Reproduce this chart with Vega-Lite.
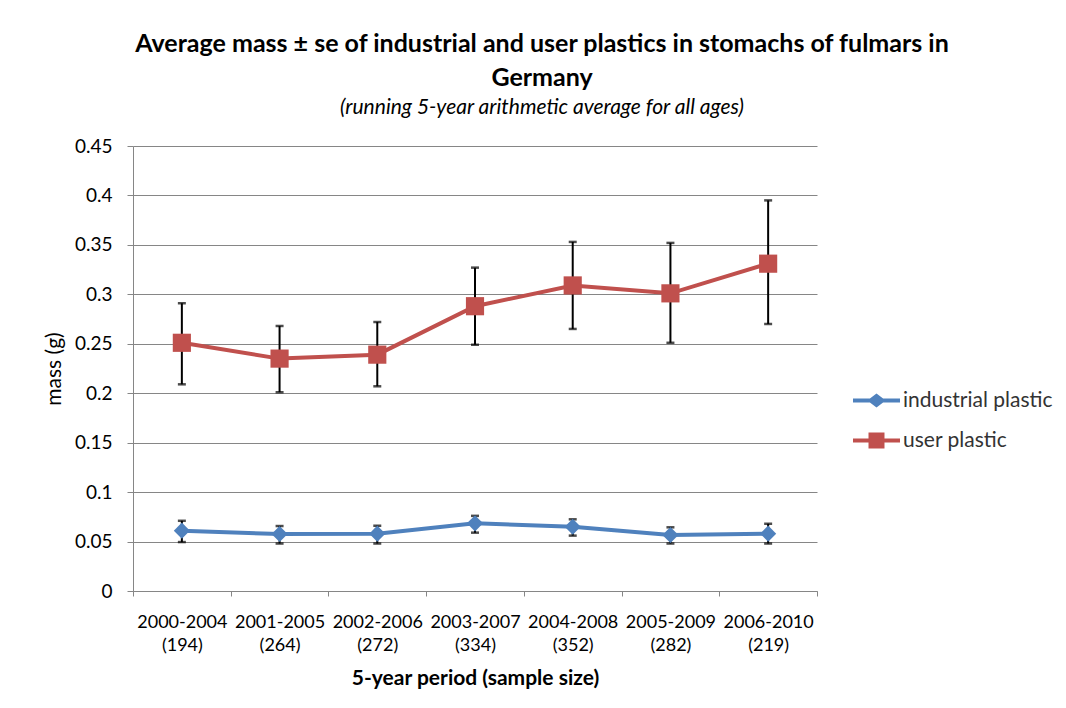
{
  "$schema": "https://vega.github.io/schema/vega-lite/v6.json",
  "width": 684,
  "height": 445,
  "autosize": {"type": "none"},
  "padding": {"left": 133, "top": 146, "right": 249, "bottom": 117},
  "background": "white",
  "title": {
    "text": ["Average mass ± se of industrial and user plastics in stomachs of fulmars in", "Germany"],
    "subtitle": "(running  5-year arithmetic average for all ages)",
    "anchor": "middle",
    "dx": 67,
    "font": "Lato",
    "fontSize": 25,
    "fontWeight": "bold",
    "color": "#000000",
    "lineHeight": 34,
    "subtitleFont": "Lato",
    "subtitleFontSize": 21,
    "subtitleFontStyle": "italic",
    "subtitleFontWeight": "normal",
    "subtitleColor": "#000000",
    "subtitlePadding": 6,
    "offset": 19
  },
  "data": {
    "values": [
      {"period": "2000-2004 (194)", "series": "industrial plastic", "mass": 0.061, "lo": 0.0495, "hi": 0.071},
      {"period": "2001-2005 (264)", "series": "industrial plastic", "mass": 0.0576, "lo": 0.048, "hi": 0.0657},
      {"period": "2002-2006 (272)", "series": "industrial plastic", "mass": 0.058, "lo": 0.048, "hi": 0.066},
      {"period": "2003-2007 (334)", "series": "industrial plastic", "mass": 0.0684, "lo": 0.059, "hi": 0.076},
      {"period": "2004-2008 (352)", "series": "industrial plastic", "mass": 0.065, "lo": 0.056, "hi": 0.0725},
      {"period": "2005-2009 (282)", "series": "industrial plastic", "mass": 0.0566, "lo": 0.048, "hi": 0.0644},
      {"period": "2006-2010 (219)", "series": "industrial plastic", "mass": 0.058, "lo": 0.048, "hi": 0.068},
      {"period": "2000-2004 (194)", "series": "user plastic", "mass": 0.251, "lo": 0.209, "hi": 0.291},
      {"period": "2001-2005 (264)", "series": "user plastic", "mass": 0.235, "lo": 0.201, "hi": 0.268},
      {"period": "2002-2006 (272)", "series": "user plastic", "mass": 0.239, "lo": 0.207, "hi": 0.272},
      {"period": "2003-2007 (334)", "series": "user plastic", "mass": 0.288, "lo": 0.249, "hi": 0.327},
      {"period": "2004-2008 (352)", "series": "user plastic", "mass": 0.309, "lo": 0.265, "hi": 0.353},
      {"period": "2005-2009 (282)", "series": "user plastic", "mass": 0.301, "lo": 0.251, "hi": 0.352},
      {"period": "2006-2010 (219)", "series": "user plastic", "mass": 0.331, "lo": 0.27, "hi": 0.395}
    ]
  },
  "encoding": {
    "x": {
      "field": "period",
      "type": "nominal",
      "sort": null,
      "scale": {"paddingInner": 0, "paddingOuter": 0},
      "axis": {
        "title": "5-year period (sample size)",
        "labelAngle": 0,
        "labelExpr": "[slice(datum.label, 0, 9), slice(datum.label, 10)]",
        "labelFont": "Lato",
        "labelFontSize": 18,
        "labelColor": "#000000",
        "labelLineHeight": 23,
        "labelPadding": 17,
        "tickBand": "extent",
        "tickSize": 5,
        "tickColor": "#868686",
        "domainColor": "#868686",
        "titleFont": "Lato",
        "titleFontSize": 21,
        "titleFontWeight": "bold",
        "titleColor": "#000000",
        "titlePadding": 13,
        "grid": false
      }
    },
    "y": {
      "field": "mass",
      "type": "quantitative",
      "scale": {"domain": [0, 0.45], "nice": false},
      "axis": {
        "title": "mass (g)",
        "values": [0, 0.05, 0.1, 0.15, 0.2, 0.25, 0.3, 0.35, 0.4, 0.45],
        "format": "~g",
        "labelFont": "Lato",
        "labelFontSize": 19,
        "labelColor": "#000000",
        "labelPadding": 15,
        "tickSize": 6,
        "tickColor": "#868686",
        "domainColor": "#868686",
        "gridColor": "#868686",
        "gridWidth": 1,
        "titleFont": "Lato",
        "titleFontSize": 21,
        "titleFontWeight": "normal",
        "titleColor": "#000000",
        "titlePadding": 10
      }
    }
  },
  "layer": [
    {
      "mark": {"type": "rule", "color": "#000000", "strokeWidth": 2},
      "encoding": {"y": {"field": "lo", "type": "quantitative"}, "y2": {"field": "hi"}}
    },
    {
      "mark": {"type": "tick", "color": "#000000", "thickness": 2.5, "size": 8, "orient": "horizontal"},
      "encoding": {"y": {"field": "lo", "type": "quantitative"}}
    },
    {
      "mark": {"type": "tick", "color": "#000000", "thickness": 2.5, "size": 8, "orient": "horizontal"},
      "encoding": {"y": {"field": "hi", "type": "quantitative"}}
    },
    {
      "mark": {"type": "line", "strokeWidth": 4},
      "encoding": {
        "color": {
          "field": "series",
          "type": "nominal",
          "scale": {"domain": ["industrial plastic", "user plastic"], "range": ["#4F81BD", "#C0504D"]},
          "legend": {
            "orient": "none",
            "legendX": 720,
            "legendY": 231,
            "title": null,
            "labelFont": "Lato",
            "labelFontSize": 21,
            "labelColor": "#333333",
            "labelOffset": 3,
            "rowPadding": 6,
            "symbolSize": 2209,
            "symbolStrokeWidth": 0,
            "symbolType": "M-1,-0.085H-0.28L0,-0.3L0.28,-0.085H1V0.085H0.28L0,0.3L-0.28,0.085H-1Z",
            "encode": {
              "symbols": {
                "update": {
                  "shape": {"signal": "datum.value === 'user plastic' ? 'M-1,-0.085H-0.34V-0.34H0.34V-0.085H1V0.085H0.34V0.34H-0.34V0.085H-1Z' : 'M-1,-0.085H-0.28L0,-0.3L0.28,-0.085H1V0.085H0.28L0,0.3L-0.28,0.085H-1Z'"},
                  "fill": {"signal": "datum.value === 'user plastic' ? '#C0504D' : '#4F81BD'"},
                  "strokeWidth": {"value": 0}
                }
              }
            }
          }
        }
      }
    },
    {
      "transform": [{"filter": "datum.series === 'industrial plastic'"}],
      "mark": {"type": "point", "filled": true, "opacity": 1, "shape": "diamond", "size": 260},
      "encoding": {"color": {"field": "series", "type": "nominal", "legend": null}}
    },
    {
      "transform": [{"filter": "datum.series === 'user plastic'"}],
      "mark": {"type": "point", "filled": true, "opacity": 1, "shape": "square", "size": 330},
      "encoding": {"color": {"field": "series", "type": "nominal", "legend": null}}
    }
  ],
  "config": {
    "view": {"stroke": null}
  }
}
